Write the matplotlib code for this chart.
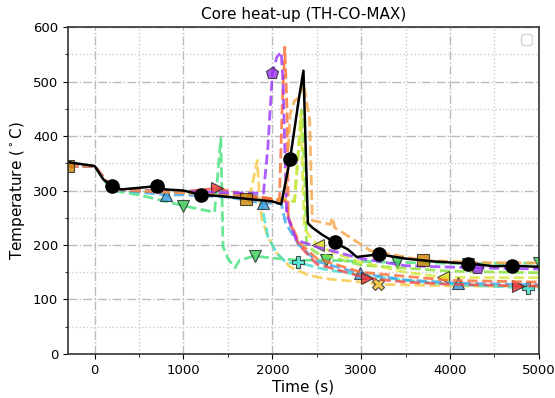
import matplotlib
matplotlib.use("Agg")
import matplotlib.pyplot as plt
from matplotlib.ticker import MultipleLocator

# experiment (black, solid)
exp_t = [-300, 0, 100, 200, 300, 500, 700, 800, 1000, 1200, 1400, 1700, 2000, 2100, 2200, 2300, 2350, 2400, 2450, 2550, 2700, 2850, 2950, 3200, 3500, 3800, 4200, 4500, 4700, 5000]
exp_T = [352, 345, 320, 308, 302, 305, 308, 302, 300, 292, 290, 285, 280, 275, 358, 470, 520, 240, 232, 220, 205, 192, 178, 183, 175, 170, 166, 161, 162, 160]
exp_mk = [3, 6, 9, 14, 20, 23, 26, 28]

# code results (dashed)
pur_t = [-300, 0, 200, 500, 1000, 1500, 1900, 1950, 2000, 2050, 2100, 2120, 2160, 2270, 2535, 3000, 3500, 4300, 5000]
pur_T = [345, 345, 303, 300, 298, 296, 295, 380, 515, 545, 554, 500, 258, 209, 195, 175, 162, 158, 156]
pur_mk = [8, 17]

tom_t = [-300, 0, 200, 500, 1000, 1500, 2080, 2110, 2140, 2165, 2180, 2300, 2500, 3000, 4000, 5000]
tom_T = [345, 345, 303, 299, 296, 292, 282, 450, 563, 450, 250, 205, 175, 150, 135, 132]

org_t = [-300, 0, 200, 500, 1000, 1500, 1700, 2000, 2150, 2200, 2250, 2300, 2350, 2420, 2450, 2600, 2650, 2680, 2700, 2800, 3100, 3700, 4300, 5000]
org_T = [345, 345, 303, 300, 296, 290, 285, 280, 285, 440, 465, 470, 497, 430, 245, 240, 238, 250, 232, 222, 190, 172, 168, 167]
org_mk = [0, 6, 21]

grn_t = [-300, 0, 100, 200, 500, 1000, 1350, 1420, 1445, 1500, 1580, 1630, 1800, 2000, 2300, 2600, 3000, 3400, 3800, 4200, 4600, 5000]
grn_T = [345, 345, 320, 300, 292, 272, 260, 396, 197, 175, 158, 172, 180, 176, 172, 172, 170, 168, 167, 166, 166, 167]
grn_mk = [5, 12, 15, 17, 19, 21]

lim_t = [-300, 0, 200, 500, 1000, 1500, 2000, 2250, 2330, 2370, 2385, 2500, 3000, 4000, 5000]
lim_T = [345, 345, 302, 299, 296, 292, 285, 280, 448, 300, 200, 185, 163, 152, 149]

ylg_t = [-300, 0, 200, 500, 1000, 1500, 2000, 2250, 2320, 2360, 2450, 2510, 2700, 3000, 3500, 3920, 4500, 5000]
ylg_T = [345, 345, 302, 300, 296, 292, 285, 280, 440, 230, 210, 200, 185, 168, 150, 141, 140, 140]
ylg_mk = [11, 15]

cyn_t = [-300, 0, 200, 500, 1000, 1500, 1860, 1950, 2050, 2160, 2290, 2600, 3000, 3500, 4000, 4880, 5000]
cyn_T = [345, 345, 303, 299, 296, 293, 290, 215, 185, 167, 168, 155, 145, 135, 128, 121, 121]
cyn_mk = [10, 15]

blu_t = [-300, 0, 200, 500, 800, 1000, 1500, 1890, 2100, 2150, 2300, 2500, 2985, 3500, 4090, 5000]
blu_T = [345, 345, 302, 297, 292, 292, 288, 277, 276, 240, 200, 170, 148, 136, 130, 127]
blu_mk = [4, 7, 12, 14]

red_t = [-300, 0, 200, 500, 1000, 1375, 1700, 2100, 2150, 2200, 2300, 2500, 3070, 3500, 4000, 4760, 5000]
red_T = [345, 345, 303, 300, 298, 304, 292, 282, 280, 240, 200, 165, 139, 132, 128, 125, 125]
red_mk = [5, 12, 15]

gld_t = [-300, 0, 200, 500, 1000, 1500, 1700, 1760, 1830, 1850, 1880, 1950, 2050, 2200, 2400, 2600, 3000, 3190, 4000, 5000]
gld_T = [345, 345, 302, 299, 295, 290, 287, 300, 355, 300, 250, 215, 185, 160, 145, 138, 132, 128, 125, 124]
gld_mk = [17]

fig, ax = plt.subplots(figsize=(5.55, 3.98), dpi=100)
fig.subplots_adjust(left=0.1225, right=0.971, top=0.932, bottom=0.1106)

mk = dict(markersize=9, markeredgecolor='#222222', markeredgewidth=0.8)
dl = dict(linestyle='--', linewidth=2, alpha=0.8)

ax.plot(grn_t, grn_T, color='#44e27a', marker='v', markerfacecolor='#33cc55', markevery=grn_mk, **dl, **mk)
ax.plot(lim_t, lim_T, color='#88e23a', **dl)
ax.plot(ylg_t, ylg_T, color='#d6e83a', marker='<', markerfacecolor='#e0e020', markevery=ylg_mk, **dl, **mk)
ax.plot(gld_t, gld_T, color='#f5c842', marker='X', markerfacecolor='#f0c030', markevery=gld_mk, **dl, **mk)
ax.plot(cyn_t, cyn_T, color='#3ee0d0', marker='P', markerfacecolor='#40e0d0', markevery=cyn_mk, **dl, **mk)
ax.plot(blu_t, blu_T, color='#3aa6ee', marker='^', markerfacecolor='#3399dd', markevery=blu_mk, **dl, **mk)
ax.plot(red_t, red_T, color='#f04848', marker='>', markerfacecolor='#ee3333', markevery=red_mk, **dl, **mk)
ax.plot(tom_t, tom_T, color='#ff6a30', **dl)
ax.plot(pur_t, pur_T, color='#9933ff', marker='p', markerfacecolor='#9933ee', markevery=pur_mk, **dl, **mk)
ax.plot(org_t, org_T, color='#f5a443', marker='s', markerfacecolor='#cc8400', markevery=org_mk, **dl, **mk)
ax.plot(exp_t, exp_T, color='black', linewidth=1.8, marker='o', markerfacecolor='black',
        markevery=exp_mk, markersize=9.5, markeredgecolor='black')

ax.set_xlim(-300, 5000)
ax.set_ylim(0, 600)
ax.xaxis.set_major_locator(MultipleLocator(1000))
ax.xaxis.set_minor_locator(MultipleLocator(500))
ax.yaxis.set_major_locator(MultipleLocator(100))
ax.yaxis.set_minor_locator(MultipleLocator(50))
ax.grid(which='major', linestyle='-.', color='#bbbbbb', linewidth=1)
ax.grid(which='minor', linestyle=':', color='#cccccc', linewidth=1)
ax.set_axisbelow(True)
for s in ax.spines.values():
    s.set_linewidth(1.2)
    s.set_color('#333333')

ax.set_title('Core heat-up (TH-CO-MAX)', fontsize=11)
ax.set_xlabel('Time (s)', fontsize=11, labelpad=2)
ax.set_ylabel(r'Temperature ($^\circ$C)', fontsize=11)
ax.tick_params(labelsize=9.5)
ax.legend(handles=[], loc='upper right')

fig.savefig('out.png')
